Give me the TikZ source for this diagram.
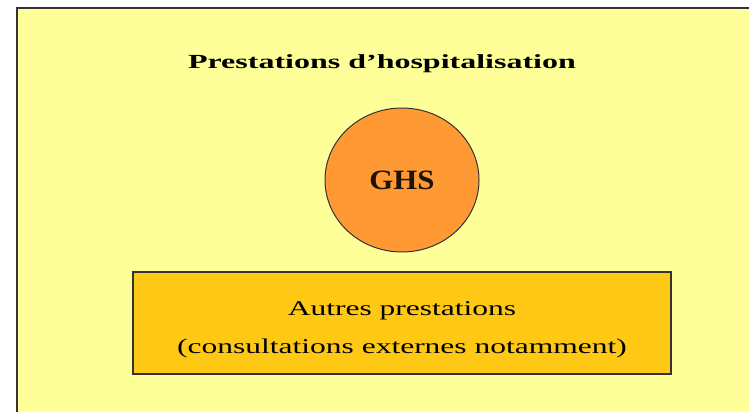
\documentclass[tikz,border=0pt]{standalone}
\usepackage{fontspec}
\setmainfont{Liberation Serif}
\newfontfamily\titrefont[FakeStretch=1.6]{Liberation Serif}
\newfontfamily\autresfont[FakeStretch=1.5]{Liberation Serif}
\newfontfamily\ghsfont[FakeStretch=1.1]{Liberation Serif}
\usetikzlibrary{shapes.geometric}
\definecolor{fondjaune}{HTML}{FFFF99}
\definecolor{orangeghs}{HTML}{FF9933}
\definecolor{orautres}{HTML}{FFC814}
\begin{document}
\begin{tikzpicture}[x=1pt,y=1pt,
        ghs node/.style={ellipse,draw=black!80,fill=orangeghs,line width=1pt,
          minimum width=154pt,minimum height=144pt,inner sep=0pt,
          font=\ghsfont\fontsize{28}{30}\selectfont\bfseries,text=black!85!brown},
        autres node/.style={rectangle,draw=black!80,fill=orautres,line width=1.2pt,
          minimum width=538pt,minimum height=102pt},
        autres texte/.style={align=center,font=\autresfont\fontsize{21}{38}\selectfont}]

        \useasboundingbox (0,0) rectangle (749,412);
        \fill[fondjaune] (17,0) rectangle (749,404);
        \draw[black!80,line width=1.5pt] (17,0) -- (17,404) -- (749,404);

        \node (titre) at (382,348) {\titrefont\fontsize{20}{24}\selectfont\bfseries Prestations d’hospitalisation};
        \node[ghs node] (ghs) at (402,232) {GHS};
        \node[autres node] (autres) at (402,89) {};
        \node[autres texte] (autrestxt) at ([yshift=-7pt]autres.center) {Autres prestations\\(consultations externes notamment)};
      \end{tikzpicture}
\end{document}
